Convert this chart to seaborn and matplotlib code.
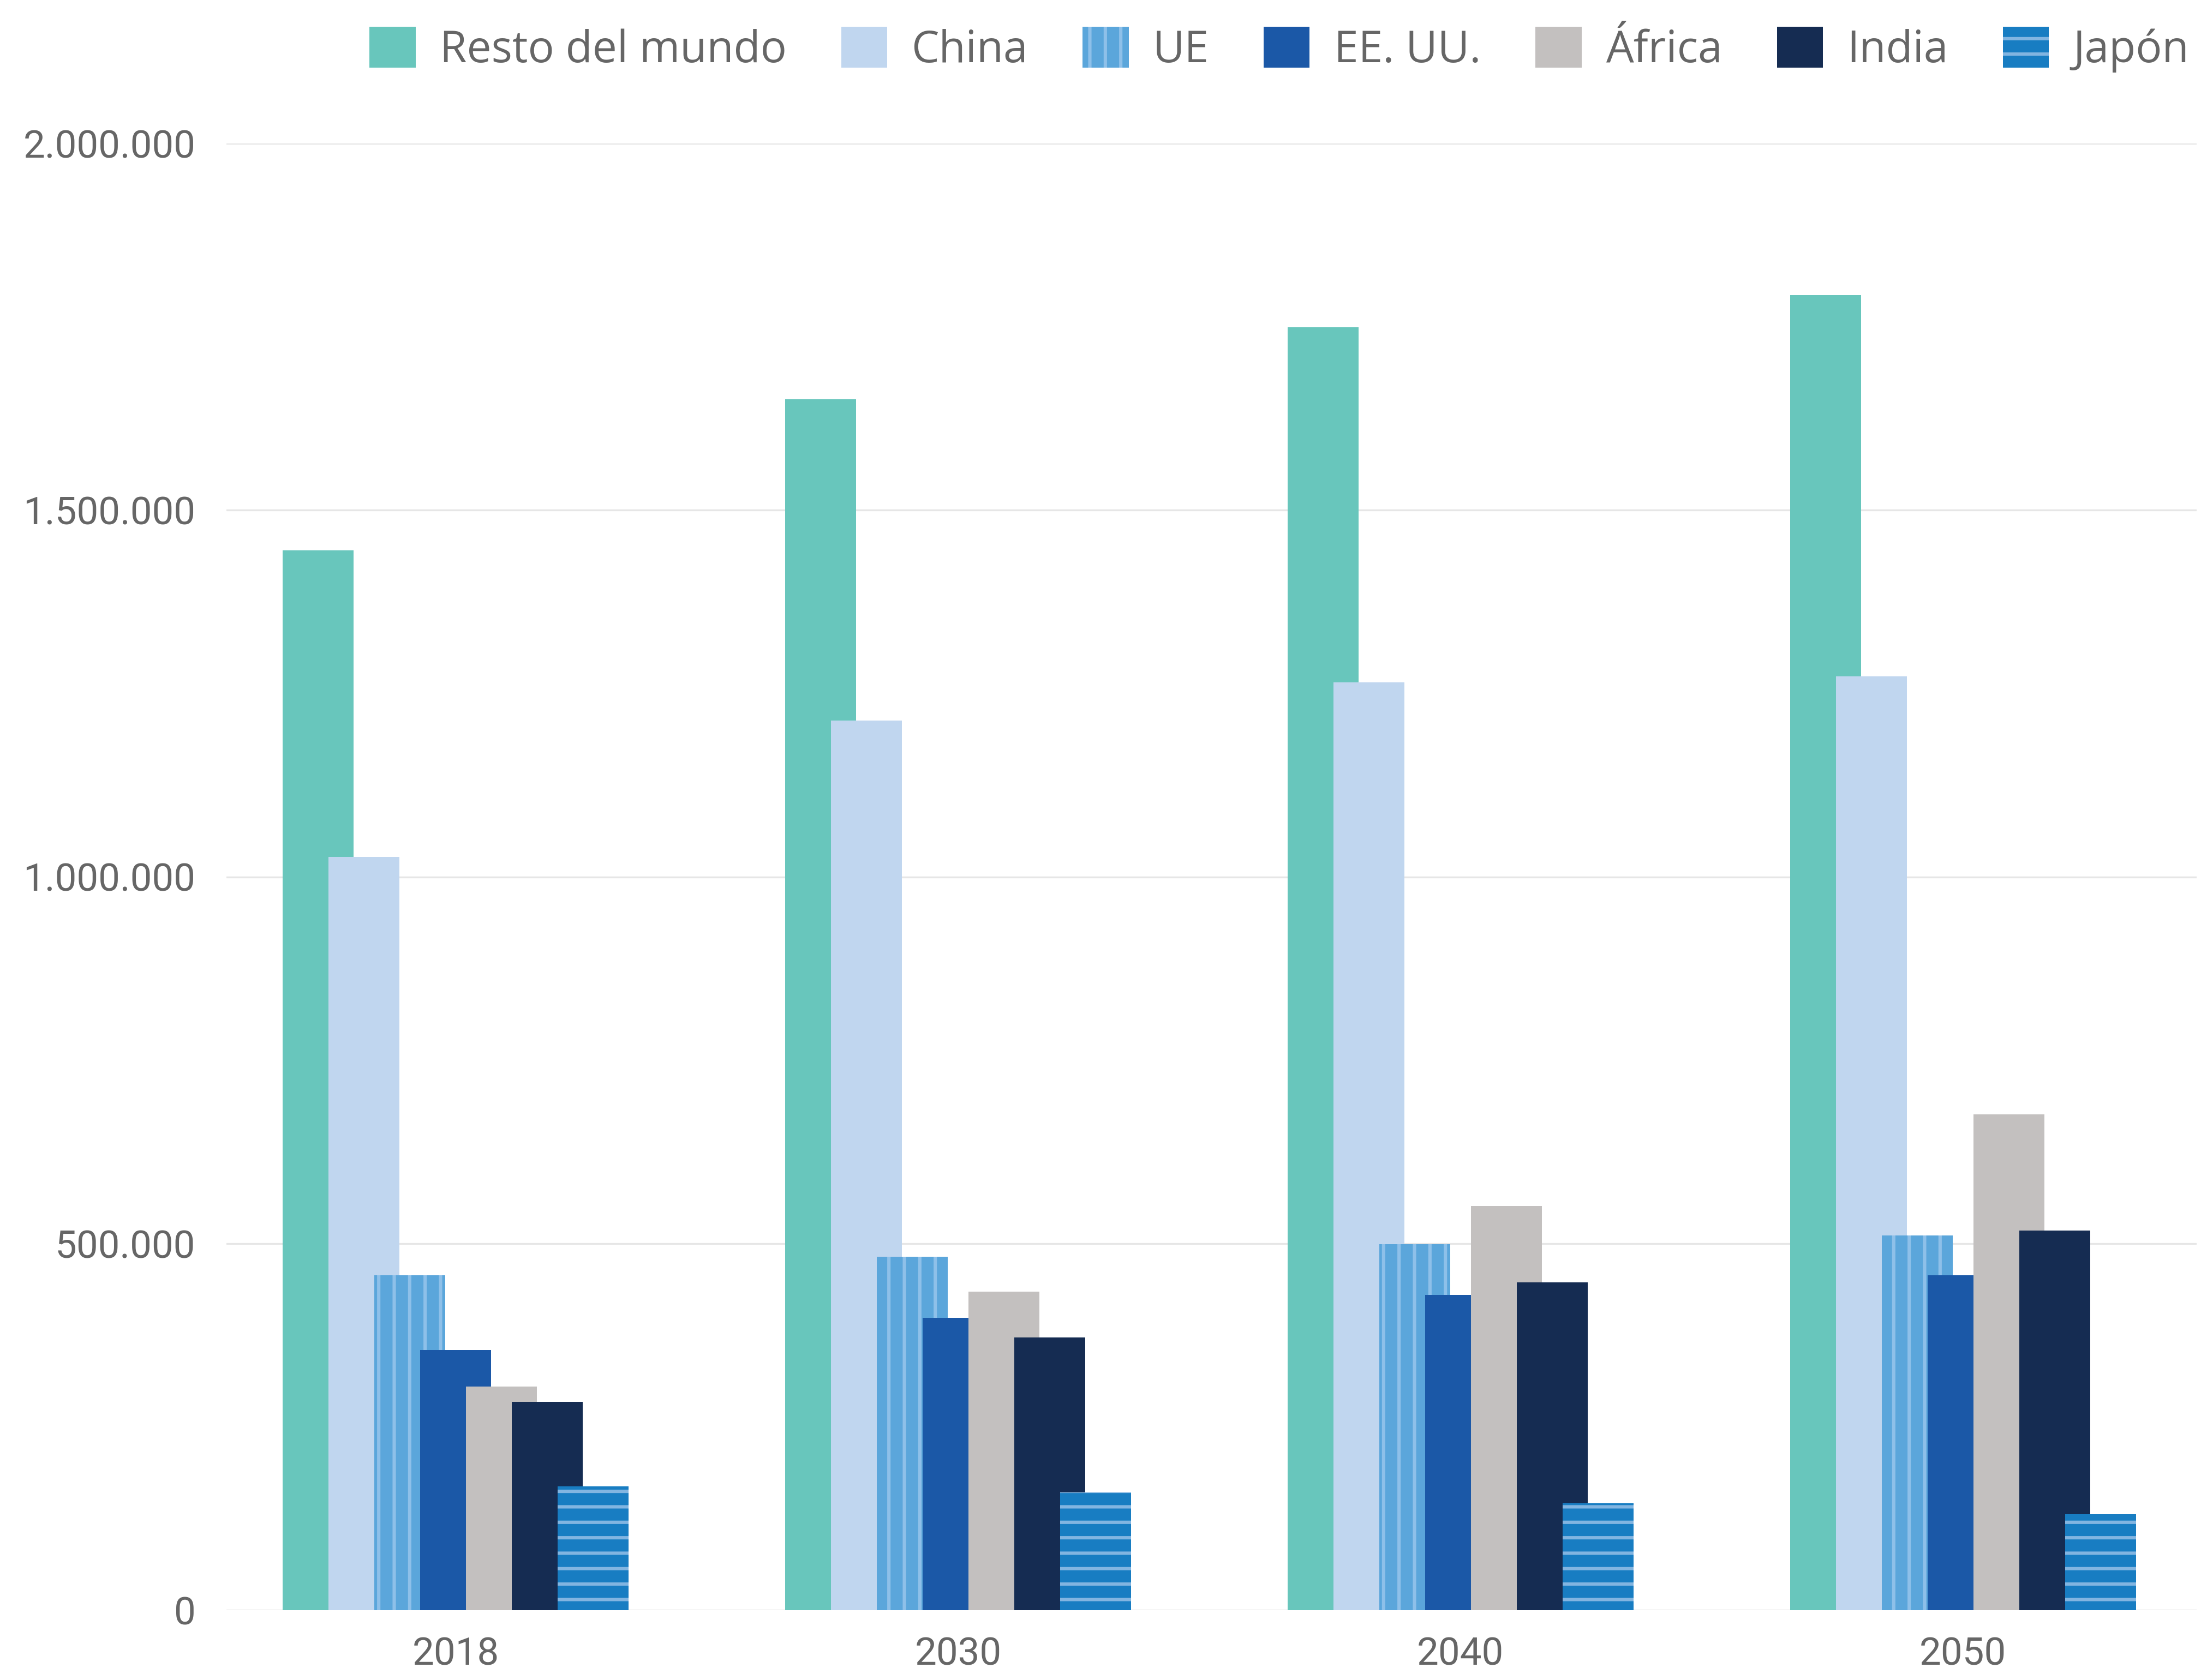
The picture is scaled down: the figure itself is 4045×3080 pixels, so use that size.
import pandas as pd
import matplotlib.pyplot as plt
import matplotlib.patches as mpatches
import seaborn as sns

# ============================================================
# DATOS
# ============================================================
years = ["2018", "2030", "2040", "2050"]
regions = ["Resto del mundo", "China", "UE", "EE. UU.", "África", "India", "Japón"]

resto = [1445000, 1651000, 1749000, 1793000]
china = [1027000, 1213000, 1265000, 1273000]
ue = [457000, 482000, 499000, 511000]
eeuu = [355000, 399000, 430000, 457000]
africa = [305000, 434000, 551000, 676000]
india = [284000, 372000, 447000, 518000]
japon = [169000, 161000, 146000, 131000]

colors = ["#68c6bc", "#c0d6ef", "#5ba6db", "#1b58a7", "#c3c0bf", "#152c52", "#187dc2"]
hatch_colors = [None, None, "#8ec0e9", None, None, None, "#82b5e1"]
hatches = [None, None, "|", None, None, None, "-"]

series = [resto, china, ue, eeuu, africa, india, japon]
df = pd.DataFrame(
    [(y, r, v) for r, vals in zip(regions, series) for y, v in zip(years, vals)],
    columns=["year", "region", "valor"],
)

# ============================================================
# FIGURA
# ============================================================
DPI = 170
sns.set_theme(style="white")
plt.rcParams["font.family"] = ["Roboto", "DejaVu Sans"]
plt.rcParams["hatch.linewidth"] = 2.6
text_color = "#666666"

fig = plt.figure(figsize=(4045 / DPI, 3080 / DPI), dpi=DPI)
ax = fig.add_axes([415 / 4045, 1 - 2952 / 3080, (4026 - 415) / 4045, (2952 - 263) / 3080])

step = 0.0912
bar_w = 0.141
sns.barplot(
    data=df, x="year", y="valor", hue="region", hue_order=regions,
    palette=colors, width=7 * step, gap=0, saturation=1, legend=False,
    errorbar=None, ax=ax,
)

# barras solapadas: cada una más ancha que el paso y encima de la anterior
for i, cont in enumerate(ax.containers):
    for bar in cont:
        cx = bar.get_x() + bar.get_width() / 2
        bar.set_width(bar_w)
        bar.set_x(cx - bar_w / 2)
        bar.set_zorder(2 + i)
        bar.set_linewidth(0)
        if hatches[i]:
            bar.set_hatch(hatches[i])
            bar.set_edgecolor(hatch_colors[i])

ax.set_xlim(-0.456, 3.465)
ax.set_ylim(0, 2000000)
ax.set_yticks([0, 500000, 1000000, 1500000, 2000000])
ax.set_yticklabels([f"{int(v):,}".replace(",", ".") for v in ax.get_yticks()])
ax.set_xlabel("")
ax.set_ylabel("")

ax.set_axisbelow(True)
ax.yaxis.grid(True, color="#e6e6e6", linewidth=1.4)
ax.xaxis.grid(False)
sns.despine(ax=ax, left=True, bottom=True)
ax.tick_params(axis="y", length=0, pad=24, labelsize=30, labelcolor=text_color)
ax.tick_params(axis="x", length=0, pad=20, labelsize=30, labelcolor=text_color)

# leyenda arriba a la derecha
handles = []
for i, r in enumerate(regions):
    if hatches[i]:
        h = mpatches.Patch(facecolor=colors[i], edgecolor=hatch_colors[i], hatch=hatches[i], linewidth=0, label=r)
    else:
        h = mpatches.Patch(facecolor=colors[i], linewidth=0, label=r)
    handles.append(h)

fig.legend(
    handles=handles, loc="center right", bbox_to_anchor=(4012 / 4045, 1 - 91 / 3080),
    ncol=7, frameon=False, borderpad=0, borderaxespad=0,
    handlelength=1.05, handleheight=1.05, handletextpad=0.55, columnspacing=1.25,
    prop={"family": ["Open Sans", "DejaVu Sans"], "size": 34}, labelcolor=text_color,
)

plt.savefig("out.png", dpi=DPI)
plt.close()
